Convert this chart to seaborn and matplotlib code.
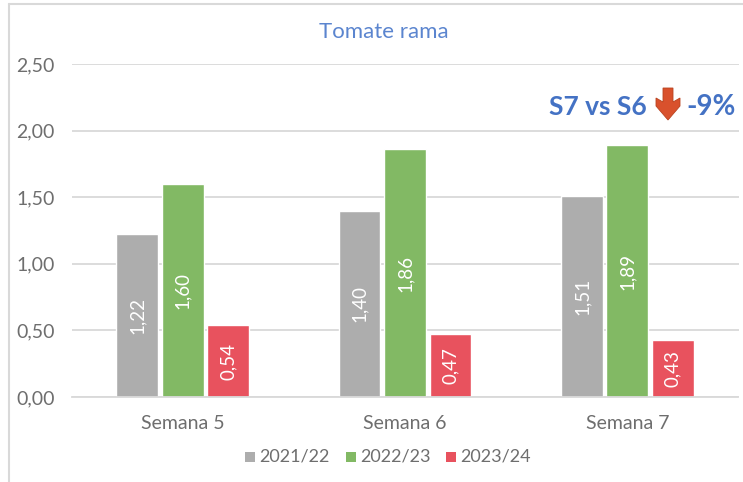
import pandas as pd
import matplotlib.pyplot as plt
import seaborn as sns
from matplotlib.patches import Polygon, Rectangle

semanas = ['Semana 5', 'Semana 6', 'Semana 7']
campanas = ['2021/22', '2022/23', '2023/24']
v_2122 = [1.22, 1.40, 1.51]
v_2223 = [1.60, 1.86, 1.89]
v_2324 = [0.54, 0.47, 0.43]
yticks = [0.0, 0.5, 1.0, 1.5, 2.0, 2.5]
colores = ['#ADADAD', '#82B964', '#E8525E']

df = pd.DataFrame({
    'semana': semanas * 3,
    'campana': [c for c in campanas for _ in semanas],
    'valor': v_2122 + v_2223 + v_2324,
})

sns.set_style('white')
plt.rcParams['font.family'] = ['Lato', 'DejaVu Sans']

W, H = 743, 482
fig = plt.figure(figsize=(W / 100, H / 100), dpi=100)
ax = fig.add_axes([71.5 / W, 1 - 397 / H, 667 / W, 333 / H])

sns.barplot(data=df, x='semana', y='valor', hue='campana', palette=colores,
            width=0.614, gap=0.08, saturation=1, ax=ax, legend=False)

# etiquetas dentro de las barras
for cont in ax.containers:
    labels = [f'{b.get_height():.2f}'.replace('.', ',') for b in cont]
    ax.bar_label(cont, labels=labels, label_type='center', rotation=90,
                 color='white', fontsize=13.5)

ax.set_ylim(0, 2.5)
ax.set_xlim(-0.5, 2.5)
ax.set_yticks(yticks)
ax.set_yticklabels([f'{t:.2f}'.replace('.', ',') for t in yticks])
ax.set_xlabel('')
ax.set_ylabel('')
ax.grid(axis='y', color='#D9D9D9', lw=1.3)
ax.set_axisbelow(True)
sns.despine(ax=ax, left=True, top=True, right=True)
ax.spines['bottom'].set_color('#D9D9D9')
ax.spines['bottom'].set_linewidth(1.3)
ax.tick_params(axis='both', length=0, labelsize=14, labelcolor='#6E6E6E')
ax.tick_params(axis='y', pad=12)
ax.tick_params(axis='x', pad=13)

# marco exterior
fig.add_artist(plt.Line2D([9 / W, 9 / W], [0, 1 - 4 / H], color='#D9D9D9', lw=1.5))
fig.add_artist(plt.Line2D([9 / W, 1], [1 - 4 / H, 1 - 4 / H], color='#D9D9D9', lw=1.5))

fig.text(383.5 / W, 1 - 32.5 / H, 'Tomate rama', color='#5B85CF', fontsize=16,
         ha='center', va='center')

# anotacion con flecha
fig.text(647 / W, 1 - 107 / H, 'S7 vs S6', color='#4472C4', fontsize=19,
         fontweight='bold', ha='right', va='center')
fig.text(736 / W, 1 - 107 / H, '-9%', color='#4472C4', fontsize=20,
         fontweight='bold', ha='right', va='center')
flecha = [(663, 88), (673, 88), (673, 102), (680, 98), (680, 106), (668, 120),
          (656, 106), (656, 98), (663, 102)]
fig.add_artist(Polygon([(x / W, 1 - y / H) for x, y in flecha], closed=True,
                       transform=fig.transFigure, facecolor='#D9512C',
                       edgecolor='#B8431F', lw=0.6))

# leyenda
x_ley = [245, 346, 446]
for nombre, col, x in zip(campanas, colores, x_ley):
    fig.add_artist(Rectangle((x / W, 1 - 462 / H), 10 / W, 10 / H,
                             transform=fig.transFigure, facecolor=col, edgecolor='none'))
    fig.text((x + 14) / W, 1 - 457 / H, nombre, color='#6E6E6E', fontsize=13,
             ha='left', va='center')

fig.savefig('out.png', dpi=100)
